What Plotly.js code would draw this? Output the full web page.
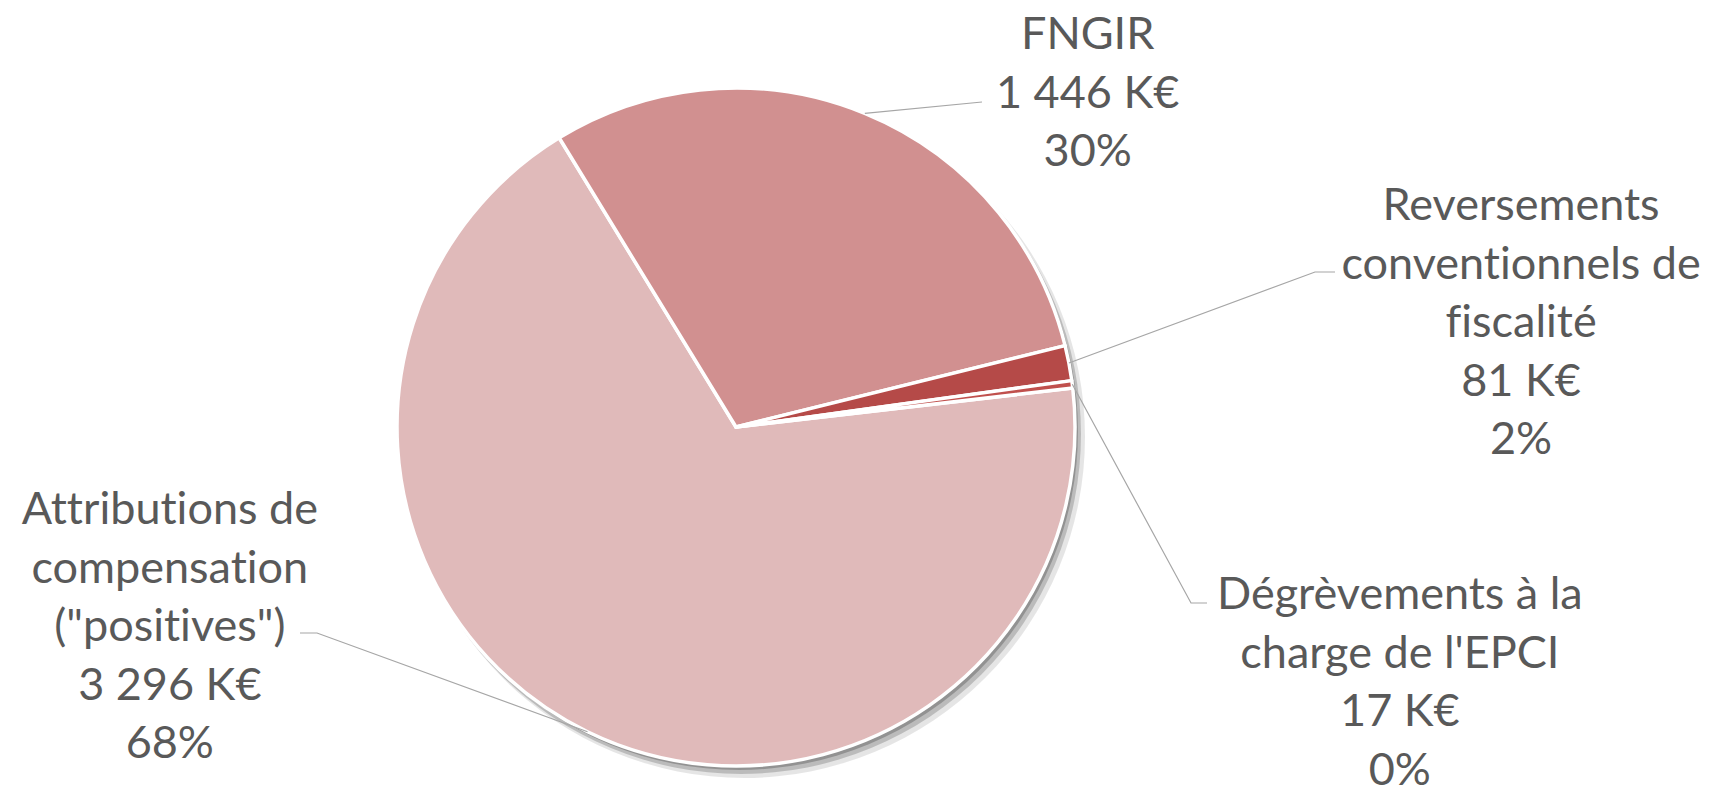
<!DOCTYPE html>
<html>
<head>
<meta charset="utf-8">
<script src="https://cdn.plot.ly/plotly-3.0.1.min.js"></script>
<style>html,body{margin:0;padding:0;background:#fff;}#chart{width:1716px;height:797px;}
#chart text{font-variant-ligatures:none;font-feature-settings:"liga" 0,"clig" 0;}</style>
</head>
<body>
<div id="chart"></div>
<script>
// ---- data ----
const categories = ['Attributions de compensation ("positives")', 'FNGIR', 'Reversements conventionnels de fiscalité', "Dégrèvements à la charge de l'EPCI"];
const labelLines = [['Attributions de', 'compensation', '("positives")'], ['FNGIR'], ['Reversements', 'conventionnels de', 'fiscalité'], ['Dégrèvements à la', "charge de l'EPCI"]];
const valuesK = [3296, 1446, 81, 17];
const unit = 'K€';
const colors = ['#E0BABA', '#D19090', '#B54A48', '#C0504D'];

// ---- layout geometry (pixels) ----
const W = 1716, H = 797;
const cx = 736, cy = 427, R = 339;
const rotation = 83.4;
// label block centres and leader-line elbows / ends
const labelPos = [[170, 624], [1087, 91], [1521, 320], [1400, 680]];
const elbows = [[317, 633], [982, 102], [1315, 272], [1191, 603]];
const ends = [[300, 633], [982, 102], [1335, 272], [1207, 603]];

const total = valuesK.reduce((a, b) => a + b, 0);
function fmt(v) { return String(v).replace(/\B(?=(\d{3})+(?!\d))/g, ' '); }
const px = x => x / W, py = y => 1 - y / H;

const trace = {
  type: 'pie',
  labels: categories,
  values: valuesK,
  sort: false,
  direction: 'clockwise',
  rotation: rotation,
  marker: { colors: colors, line: { color: '#FFFFFF', width: 3.5 } },
  textinfo: 'none',
  hoverinfo: 'label+value+percent',
  showlegend: false,
  domain: { x: [px(cx - R), px(cx + R)], y: [py(cy + R), py(cy - R)] }
};

const annotations = [];
const shapes = [];
// soft shadow behind the pie
[[8, 10, 2, 'rgba(0,0,0,0.10)'], [5, 7, 1, 'rgba(0,0,0,0.18)'], [3, 4, 0, 'rgba(0,0,0,0.22)']].forEach(s => {
  shapes.push({ type: 'circle', layer: 'below', xref: 'paper', yref: 'paper',
    x0: px(cx - R + s[0] - s[2]), x1: px(cx + R + s[0] + s[2]), y0: py(cy + R + s[1] + s[2]), y1: py(cy - R + s[1] - s[2]),
    fillcolor: s[3], line: { width: 0 } });
});

let cum = 0;
valuesK.forEach((v, i) => {
  const mid = (rotation + 360 * (cum + v / 2) / total) * Math.PI / 180;
  cum += v;
  const ex = cx + R * Math.sin(mid), ey = cy - R * Math.cos(mid);
  const pct = Math.round(v / total * 100) + '%';
  const txt = labelLines[i].concat([fmt(v) + ' ' + unit, pct]).join('<br>');
  annotations.push({ xref: 'paper', yref: 'paper', x: px(labelPos[i][0]), y: py(labelPos[i][1]),
    xanchor: 'center', yanchor: 'middle', align: 'center', showarrow: false, text: txt,
    font: { family: 'Lato, sans-serif', size: 45, color: '#595959' } });
  shapes.push({ type: 'path', xref: 'paper', yref: 'paper',
    path: `M ${px(ex)} ${py(ey)} L ${px(elbows[i][0])} ${py(elbows[i][1])} L ${px(ends[i][0])} ${py(ends[i][1])}`,
    line: { color: '#A6A6A6', width: 1.2 } });
});

const layout = {
  width: W, height: H,
  margin: { l: 0, r: 0, t: 0, b: 0 },
  paper_bgcolor: '#FFFFFF',
  showlegend: false,
  annotations: annotations,
  shapes: shapes
};

Plotly.newPlot('chart', [trace], layout, { displayModeBar: false, staticPlot: true });
</script>
</body>
</html>
